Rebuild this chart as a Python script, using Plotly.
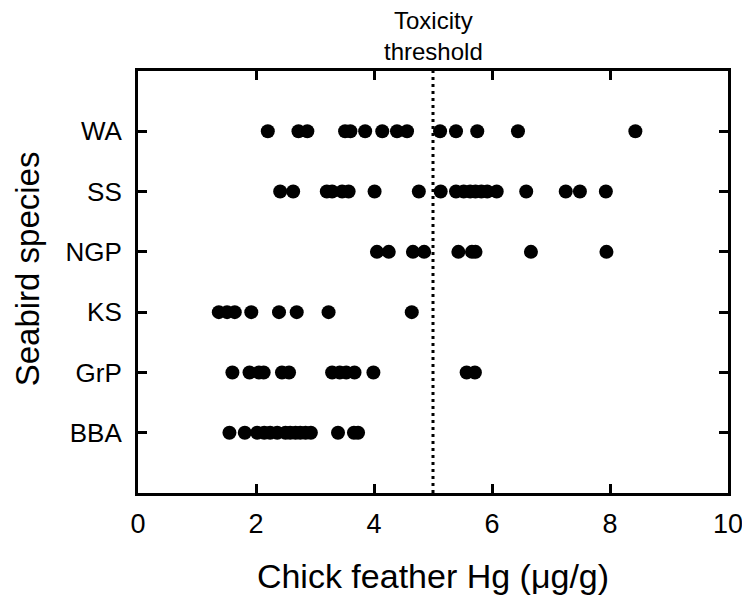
import plotly.graph_objects as go

species = ["BBA", "GrP", "KS", "NGP", "SS", "WA"]

hg_WA = [2.20, 2.72, 2.87, 3.51, 3.60, 3.85, 4.14, 4.39, 4.56, 5.12, 5.39, 5.75, 6.44, 8.43]
hg_SS = [2.41, 2.63, 3.20, 3.29, 3.46, 3.57, 4.01, 4.76, 5.13, 5.39, 5.52, 5.63, 5.72,
         5.82, 5.92, 6.08, 6.58, 7.25, 7.49, 7.93]
hg_NGP = [4.05, 4.25, 4.66, 4.85, 5.43, 5.66, 5.72, 6.66, 7.94]
hg_KS = [1.37, 1.51, 1.64, 1.92, 2.39, 2.69, 3.23, 4.64]
hg_GrP = [1.60, 1.89, 2.05, 2.13, 2.44, 2.56, 3.29, 3.42, 3.53, 3.67, 3.99, 5.57, 5.71]
hg_BBA = [1.55, 1.81, 2.02, 2.14, 2.24, 2.36, 2.50, 2.58, 2.67, 2.75, 2.84, 2.93, 3.39,
          3.66, 3.73]

x_ticks = [0, 2, 4, 6, 8, 10]
threshold = 5

series = {"BBA": hg_BBA, "GrP": hg_GrP, "KS": hg_KS, "NGP": hg_NGP, "SS": hg_SS, "WA": hg_WA}

FONT = "Liberation Sans, Arial, sans-serif"

fig = go.Figure()
for sp in species:
    vals = series[sp]
    fig.add_trace(go.Scatter(
        x=vals, y=[sp] * len(vals), mode="markers",
        marker=dict(color="black", size=14, line=dict(width=0)),
        showlegend=False, cliponaxis=False,
    ))

fig.add_shape(type="line", xref="x", yref="paper", x0=threshold, x1=threshold, y0=0, y1=1,
              line=dict(color="black", width=3, dash="3px,4px"))

fig.add_annotation(x=threshold, xref="x", y=1, yref="paper", yanchor="bottom", yshift=4,
                   text="Toxicity<br>threshold", showarrow=False,
                   font=dict(family=FONT, size=24, color="black"))

# y-axis title as a rotated annotation (sits slightly above the plot centre, as in the original)
fig.add_annotation(x=0, xref="paper", xanchor="center", xshift=-111,
                   y=0.53, yref="paper", yanchor="middle",
                   text="Seabird species", textangle=-90, showarrow=False,
                   font=dict(family=FONT, size=33, color="black"))

fig.update_xaxes(
    range=[0, 10], tickvals=x_ticks, ticktext=[str(v) for v in x_ticks],
    ticks="inside", ticklen=9, tickwidth=3, tickcolor="black",
    showline=True, linewidth=3, linecolor="black", mirror="ticks",
    showgrid=False, zeroline=False, ticklabelstandoff=5, automargin=False,
    tickfont=dict(family=FONT, size=27, color="black"),
    title=dict(text="Chick feather Hg (μg/g)", font=dict(family=FONT, size=34, color="black"),
               standoff=26),
)
fig.update_yaxes(
    type="category", categoryorder="array", categoryarray=species,
    range=[-1, 6],
    ticks="inside", ticklen=9, tickwidth=3, tickcolor="black",
    showline=True, linewidth=3, linecolor="black", mirror="ticks",
    showgrid=False, zeroline=False, ticklabelstandoff=8, automargin=False,
    tickfont=dict(family=FONT, size=26, color="black"),
)

# page body has an 8px margin, so the figure is sized to fill the rest of the window
fig.update_layout(
    width=742, height=598,
    margin=dict(l=130, r=22, t=63, b=113),
    paper_bgcolor="white", plot_bgcolor="white",
    font=dict(family=FONT, color="black"),
)

fig.write_html("out.html")
